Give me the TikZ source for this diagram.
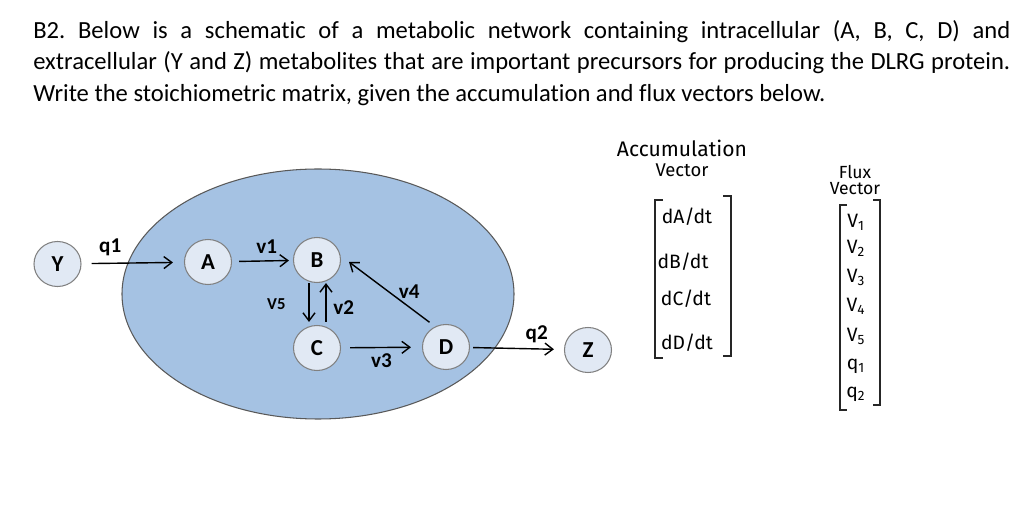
\documentclass[tikz,border=0pt]{standalone}
\usepackage{fontspec}
\setmainfont{Carlito}[Ligatures={NoCommon}]
\newfontfamily\handfont{Fira Sans}
\usetikzlibrary{positioning,arrows.meta,shapes.geometric}
\definecolor{cellblue}{HTML}{A5C2E3}
\definecolor{metfill}{HTML}{E1E9F4}
\frenchspacing

\begin{document}
\begin{tikzpicture}[
  cell/.style={draw=black!65, fill=cellblue, ellipse, line width=0.6pt,
               minimum width=7.84cm, minimum height=5.0cm},
  met/.style={draw=black!50, fill=metfill, ellipse, line width=0.6pt, inner sep=0pt,
              minimum width=0.94cm, minimum height=0.9cm,
              font=\bfseries\fontsize{13}{15}\selectfont},
  flow/.style={->, line width=0.8pt},
  rlbl/.style={font=\bfseries\fontsize{12}{14}\selectfont, inner sep=1pt},
  hand/.style={font=\handfont\fontsize{11}{11}\selectfont, inner sep=0pt, align=center},
  brk/.style={line width=0.6pt, black!85},
  >={Straight Barb[length=1.6mm,width=2.4mm]}]
  \useasboundingbox (0,0) rectangle (20.48,-10.34);
  % question text
  \node[anchor=north west, text width=19.54cm, align=justify, inner sep=0pt,
        font=\fontsize{14}{17.9}\selectfont] (quest) at (0.66,-0.40)
    {B2. Below is a schematic of a metabolic network containing intracellular (A, B, C, D) and\linebreak
     extracellular (Y and Z) metabolites that are important precursors for producing the DLRG protein.\linebreak
     Write the stoichiometric matrix, given the accumulation and flux vectors below.};
  % the cell
  \node[cell] (cell) at (6.36,-5.88) {};
  % metabolites
  \node[met] (Y) at (1.15,-5.28)  {Y};
  \node[met] (A) at (4.16,-5.24)  {A};
  \node[met] (B) at (6.34,-5.20)  {B};
  \node[met] (C) at (6.34,-6.96)  {C};
  \node[met] (D) at (8.92,-6.94)  {D};
  \node[met] (Z) at (11.76,-7.00) {Z};
  % fluxes
  \draw[flow, shorten <=0.2cm, shorten >=0.22cm] (Y) -- node[rlbl, pos=0.28, above=3pt] {q1} (A);
  \draw[flow, shorten <=0.14cm, shorten >=0.08cm] (A) -- node[rlbl, pos=0.57, above=3pt] {v1} (B);
  \draw[flow, shorten >=0.06cm] ([xshift=-0.16cm]B.south) -- node[rlbl, left=0.42cm, font=\bfseries\fontsize{9.5}{11}\selectfont] {V5} ([xshift=-0.16cm]C.north);
  \draw[flow, shorten <=0.06cm] ([xshift=0.18cm]C.north) -- node[rlbl, right=0.1cm, yshift=-0.08cm] {v2} ([xshift=0.18cm]B.south);
  \draw[flow, shorten <=0.18cm, shorten >=0.22cm] (C) -- node[rlbl, below=2pt] {v3} (D);
  \draw[flow, shorten <=0.14cm] (D.118) -- node[rlbl, pos=0.3, above=0.12cm] {v4} ([shift={(0.16,-0.04)}]B.east);
  \draw[flow, shorten <=0.06cm, shorten >=0.2cm] (D) -- node[rlbl, pos=0.71, above=2pt] {q2} (Z);
  % accumulation vector
  \node[hand, font=\handfont\fontsize{12}{11.5}\selectfont] (acc) at (13.64,-3.16)
    {Accumulation\\{\fontsize{10.5}{10}\selectfont Vector}};
  \node[hand] (dA) at (13.74,-4.34) {dA/dt};
  \node[hand] (dB) at (13.66,-5.24) {dB/dt};
  \node[hand] (dC) at (13.72,-5.98) {dC/dt};
  \node[hand] (dD) at (13.74,-6.86) {dD/dt};
  \draw[brk] (13.26,-4.00) -- (13.10,-4.00) -- (13.10,-7.16) -- (13.26,-7.16);
  \draw[brk] (14.46,-3.92) -- (14.62,-3.92) -- (14.62,-7.12) -- (14.46,-7.12);
  % flux vector
  \node[hand, font=\handfont\fontsize{10}{9.5}\selectfont] (flux) at (17.10,-3.60) {Flux\\Vector};
  \node[hand] (f1) at (17.12,-4.44) {V\textsubscript{1}};
  \node[hand] (f2) at (17.12,-4.96) {V\textsubscript{2}};
  \node[hand] (f3) at (17.12,-5.54) {V\textsubscript{3}};
  \node[hand] (f4) at (17.12,-6.12) {V\textsubscript{4}};
  \node[hand] (f5) at (17.12,-6.72) {V\textsubscript{5}};
  \node[hand] (f6) at (17.12,-7.32) {q\textsubscript{1}};
  \node[hand] (f7) at (17.12,-7.88) {q\textsubscript{2}};
  \draw[brk] (16.94,-4.10) -- (16.80,-4.10) -- (16.80,-8.20) -- (16.94,-8.20);
  \draw[brk] (17.46,-4.00) -- (17.60,-4.00) -- (17.60,-8.10) -- (17.46,-8.10);
\end{tikzpicture}
\end{document}
